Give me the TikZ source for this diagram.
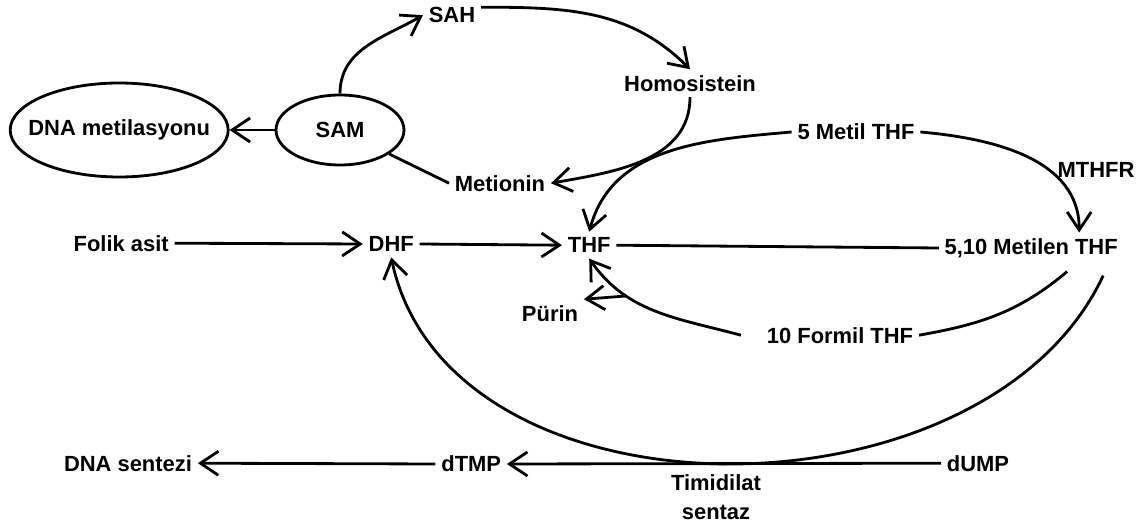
\documentclass[tikz,border=0pt]{standalone}
\usepackage{fontspec}
\setmainfont{Liberation Sans}
\usetikzlibrary{arrows.meta,shapes.geometric}
\tikzset{
  >={Straight Barb[length=4.5mm,width=6mm]},
  lbl/.style={font=\bfseries\fontsize{15.6}{20.6}\selectfont,inner sep=4pt},
  oval/.style={lbl,ellipse,draw,line width=2pt,inner sep=0pt},
  flow/.style={->,line width=2pt},
  link/.style={line width=2pt},
}
\begin{document}
\begin{tikzpicture}
  \useasboundingbox (0,0) rectangle (28.625,-13.175);
  % methyl cycle
  \node[oval,inner xsep=-4mm,minimum width=5.45cm,minimum height=2.35cm] (dnam) at (2.98,-3.25) {DNA metilasyonu};
  \node[oval,minimum width=3.2cm,minimum height=1.75cm] (sam) at (8.5,-3.25) {SAM};
  \node[lbl] (sah) at (11.3,-0.38) {SAH};
  \node[lbl] (homo) at (17.25,-2.08) {Homosistein};
  \node[lbl] (meti) at (12.5,-4.58) {Metionin};
  % folate cycle
  \node[lbl] (metil5) at (21.4,-3.3) {5 Metil THF};
  \node[lbl] (mthfr) at (27.4,-4.25) {MTHFR};
  \node[lbl] (metilen) at (25.78,-6.2) {5,10 Metilen THF};
  \node[lbl] (formil) at (21,-8.38) {10 Formil THF};
  \node[lbl] (folik) at (3.03,-6.08) {Folik asit};
  \node[lbl] (dhf) at (9.78,-6.1) {DHF};
  \node[lbl] (thf) at (14.73,-6.13) {THF};
  \node[lbl] (purin) at (13.75,-7.83) {Pürin};
  % DNA synthesis
  \node[lbl] (dnas) at (3.2,-11.58) {DNA sentezi};
  \node[lbl] (dtmp) at (11.78,-11.6) {dTMP};
  \node[lbl] (dump) at (24.45,-11.58) {dUMP};
  \node[lbl,align=center] (tsent) at (17.9,-12.43) {Timidilat\\sentaz};

  \draw[flow] (sam) -- (dnam);
  \draw[flow] (sam.north) to[out=90,in=210] (sah.west);
  \draw[flow] ([yshift=2mm]sah.east) to[out=0,in=135] (homo.north);
  \draw[flow] (homo.south) to[out=-90,in=10] (meti.east);
  \draw[link] (meti.west) -- (sam);

  \draw[flow] (metil5.west) to[out=185,in=75] (thf.north);
  \draw[flow] (metil5.east) to[out=-5,in=90] ([xshift=12mm]metilen.north);
  \draw[link] (thf.east) -- (metilen.west);
  \draw[link] ([xshift=9mm,yshift=-2mm]metilen.south) to[out=-140,in=10] (formil.east);
  \draw[flow] ([xshift=-5mm]formil.west) to[out=165,in=-55] coordinate[pos=0.7] (br) (thf.south);
  \draw[flow] (br) -- (purin.north east);
  \draw[flow] (folik.east) -- (dhf.west);
  \draw[flow] (dhf.east) -- (thf.west);
  \draw[flow] ([xshift=18mm,yshift=-3mm]metilen.south) to[out=-115,in=-78] (dhf.south);

  \draw[flow] (dump.west) -- (dtmp.east);
  \draw[flow] (dtmp.west) -- (dnas.east);
\end{tikzpicture}
\end{document}
